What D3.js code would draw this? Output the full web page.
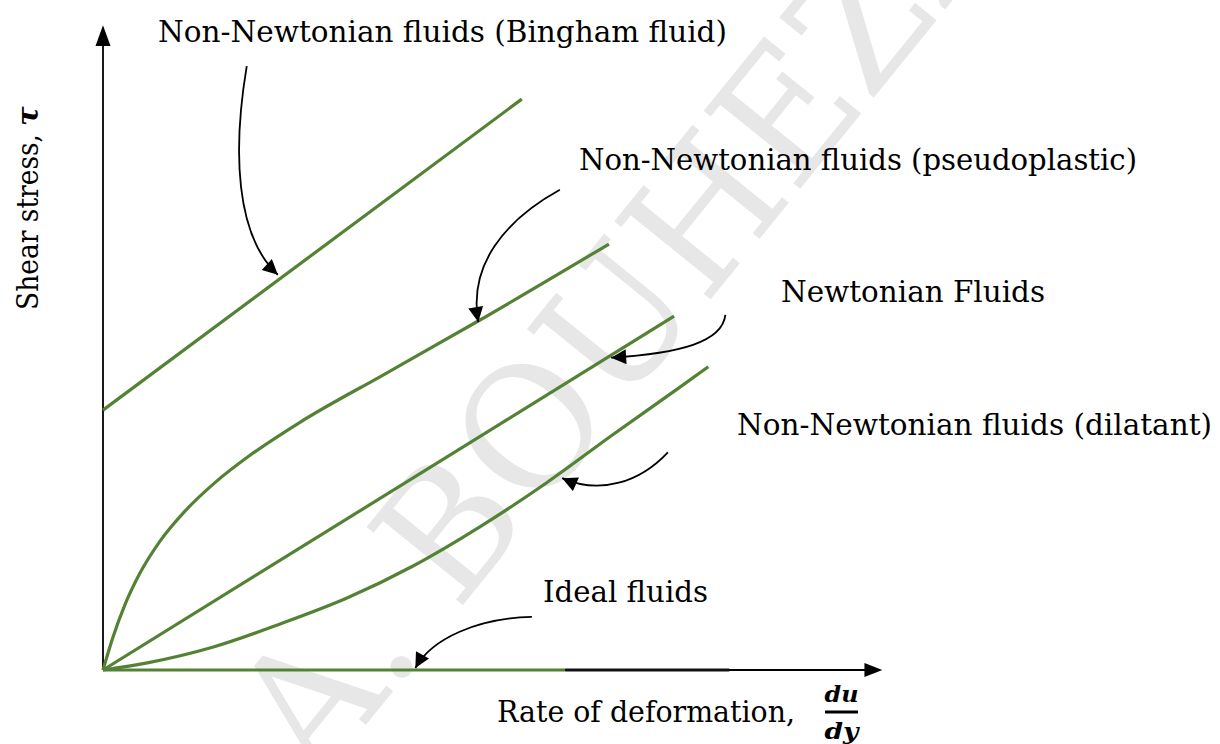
<!DOCTYPE html>
<html>
<head>
<meta charset="utf-8">
<script src="https://cdn.jsdelivr.net/npm/d3@7"></script>
<style>
  html, body { margin: 0; padding: 0; background: #fff; }
  svg { display: block; }
  text { font-family: "DejaVu Serif", "Liberation Serif", serif; }
</style>
</head>
<body>
<svg id="chart" width="1220" height="744"></svg>
<script>
// ---------------- data (units: rate of deformation 0..100, shear stress 0..100) -------------
const seriesNames = ["Bingham", "Pseudoplastic", "Newtonian", "Dilatant", "Ideal"];

const binghamX = [0, 53.9];
const binghamY = [40.1, 88.1];

const pseudoX = [0, 1.29, 2.83, 4.76, 7.34, 10.55, 14.41, 18.92, 25.35, 36.04, 48.52, 65.12];
const pseudoY = [0, 5.09, 10.09, 14.95, 19.89, 24.52, 28.92, 33.13, 38.23, 45.52, 54.01, 65.74];

const newtonX = [0, 73.5];
const newtonY = [0, 54.6];

const dilatX = [0, 5.7, 14.2, 22.8, 31.4, 39.9, 48.5, 57.1, 65.6, 74.3, 77.9];
const dilatY = [0, 1.1, 3.55, 7.1, 11.1, 16.05, 22.1, 28.9, 36.3, 43.7, 46.8];

const idealX = [0, 59.5, 80.6];   // green part then dark part
const idealY = [0, 0, 0];

const labelTexts = [
  "Non-Newtonian fluids (Bingham fluid)",
  "Non-Newtonian fluids (pseudoplastic)",
  "Newtonian Fluids",
  "Non-Newtonian fluids (dilatant)",
  "Ideal fluids"
];
const xAxisLabel = "Rate of deformation,";
const yAxisLabel = "Shear stress,";
const yAxisSymbol = "τ";
const fracTop = "du";
const fracBottom = "dy";
const watermark = "A. BOUHEZZA";

// annotation arrows (start, control1, control2, tip) in data units
const arrowStart = [[18.5, 93.2], [58.8, 74.1], [80.1, 54.8], [72.7, 33.6], [55.2, 8.2]];
const arrowC1    = [[16.7, 80.3], [51.7, 69.4], [79.7, 50.6], [69.1, 29.0], [48.3, 8.0]];
const arrowC2    = [[17.0, 67.1], [47.0, 62.5], [74.3, 48.9], [64.0, 27.0], [42.3, 4.9]];
const arrowTip   = [[22.5, 61.0], [48.3, 53.7], [65.4, 48.2], [59.1, 29.6], [40.2, 0.3]];

// ---------------- layout / style ----------------
const green = "#548235";
const svg = d3.select("#chart");

const x = d3.scaleLinear().domain([0, 100]).range([103, 880]);
const y = d3.scaleLinear().domain([0, 100]).range([670, 22]);

// watermark
svg.append("text")
  .attr("transform", "translate(318,784) rotate(-51)")
  .attr("font-size", 170)
  .attr("fill", "#e7e7e7")
  .attr("textLength", 1220)
  .attr("lengthAdjust", "spacingAndGlyphs")
  .text(watermark);

// axes
const axG = svg.append("g").attr("stroke", "#000").attr("fill", "#000");
axG.append("line")
  .attr("x1", x(0)).attr("y1", y(0))
  .attr("x2", x(0)).attr("y2", y(96.5))
  .attr("stroke-width", 1.8);
axG.append("path")
  .attr("d", d3.line()([[x(0) - 7.5, y(96.3)], [x(0), y(99.5)], [x(0) + 7.5, y(96.3)]]) + "Z")
  .attr("stroke", "none");
axG.append("line")
  .attr("x1", x(0)).attr("y1", y(0))
  .attr("x2", x(98.2)).attr("y2", y(0))
  .attr("stroke-width", 1.8);
axG.append("path")
  .attr("d", d3.line()([[x(98), y(0) - 7], [x(100.3), y(0)], [x(98), y(0) + 7]]) + "Z")
  .attr("stroke", "none");

// series lines
const toPts = (xs, ys) => xs.map((v, i) => [v, ys[i]]);
const lineGen = d3.line().x(d => x(d[0])).y(d => y(d[1])).curve(d3.curveMonotoneX);
const lines = svg.append("g").attr("fill", "none").attr("stroke", green).attr("stroke-width", 3.2).attr("stroke-linecap", "butt");

lines.append("path").attr("d", lineGen(toPts(binghamX, binghamY)));
lines.append("path").attr("d", lineGen(toPts(pseudoX, pseudoY)));
lines.append("path").attr("d", lineGen(toPts(newtonX, newtonY)));
lines.append("path").attr("d", lineGen(toPts(dilatX, dilatY)));
lines.append("path").attr("d", lineGen(toPts(idealX.slice(0, 2), idealY.slice(0, 2))));
lines.append("path").attr("d", lineGen(toPts(idealX.slice(1, 3), idealY.slice(1, 3)))).attr("stroke", "#111");

// arrow marker
svg.append("defs").append("marker")
  .attr("id", "ah")
  .attr("viewBox", "0 0 10 10")
  .attr("refX", 10).attr("refY", 5)
  .attr("markerUnits", "userSpaceOnUse")
  .attr("markerWidth", 17).attr("markerHeight", 15)
  .attr("orient", "auto")
  .append("path").attr("d", "M0,0L10,5L0,10Z").attr("fill", "#000");

const arrG = svg.append("g").attr("fill", "none").attr("stroke", "#000").attr("stroke-width", 1.8);
arrowStart.forEach((s, i) => {
  const p = d3.path();
  p.moveTo(x(s[0]), y(s[1]));
  p.bezierCurveTo(x(arrowC1[i][0]), y(arrowC1[i][1]), x(arrowC2[i][0]), y(arrowC2[i][1]), x(arrowTip[i][0]), y(arrowTip[i][1]));
  arrG.append("path").attr("d", p.toString()).attr("marker-end", "url(#ah)");
});

// labels
const labelPos = [[158, 42, 569], [579, 170, 558], [781, 302, 264], [737, 435, 475], [543, 602, 165]];
svg.append("g").selectAll("text").data(labelTexts).join("text")
  .attr("x", (d, i) => labelPos[i][0])
  .attr("y", (d, i) => labelPos[i][1])
  .attr("textLength", (d, i) => labelPos[i][2])
  .attr("lengthAdjust", "spacingAndGlyphs")
  .attr("font-size", 29)
  .attr("fill", "#000")
  .text(d => d);

// x axis label
svg.append("text")
  .attr("x", 497).attr("y", 722)
  .attr("font-size", 29)
  .attr("textLength", 298).attr("lengthAdjust", "spacingAndGlyphs")
  .text(xAxisLabel);
svg.append("text")
  .attr("x", 841.5).attr("y", 702)
  .attr("text-anchor", "middle")
  .attr("font-size", 23).attr("font-weight", "bold").attr("font-style", "italic")
  .attr("textLength", 34).attr("lengthAdjust", "spacingAndGlyphs")
  .text(fracTop);
svg.append("line")
  .attr("x1", 825).attr("x2", 858).attr("y1", 712).attr("y2", 712)
  .attr("stroke", "#000").attr("stroke-width", 3);
svg.append("text")
  .attr("x", 841.5).attr("y", 739)
  .attr("text-anchor", "middle")
  .attr("font-size", 23).attr("font-weight", "bold").attr("font-style", "italic")
  .attr("textLength", 34).attr("lengthAdjust", "spacingAndGlyphs")
  .text(fracBottom);

// y axis label
svg.append("text")
  .attr("transform", "translate(38,310) rotate(-90)")
  .attr("font-size", 30)
  .attr("textLength", 176).attr("lengthAdjust", "spacingAndGlyphs")
  .text(yAxisLabel);
svg.append("text")
  .attr("transform", "translate(38,126) rotate(-90)")
  .attr("font-size", 29).attr("font-weight", "bold").attr("font-style", "italic")
  .text(yAxisSymbol);
</script>
</body>
</html>
